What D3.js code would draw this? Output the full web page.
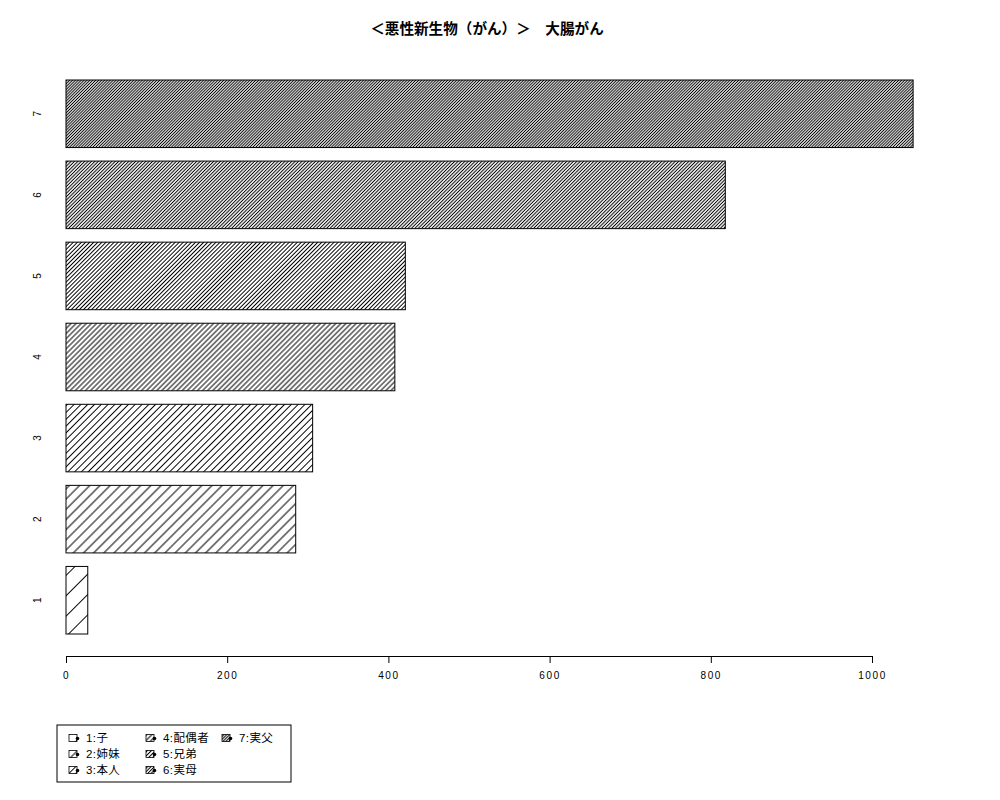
<!DOCTYPE html>
<html>
<head>
<meta charset="utf-8">
<script src="https://cdn.jsdelivr.net/npm/d3@7"></script>
<style>
  body { margin: 0; background: #fff; }
  svg { display: block; }
  text { font-family: "Liberation Sans", Arial, "Noto Sans CJK JP", sans-serif; }
</style>
</head>
<body>
<svg id="chart" width="1000" height="800"></svg>
<script>
// data
const categories = [1, 2, 3, 4, 5, 6, 7];
const values = [27, 285, 306, 408, 421, 818, 1051];
const densities = [5, 10, 15, 20, 25, 30, 35];   // hatch lines per inch
const legendLabels = ["1:子", "2:姉妹", "3:本人", "4:配偶者", "5:兄弟", "6:実母", "7:実父"];
const xTicks = [0, 200, 400, 600, 800, 1000];
const title = "＜悪性新生物（がん）＞　大腸がん";

const svg = d3.select("#chart");

const x = d3.scaleLinear().domain([0, 1000]).range([66, 872]);
const y = d3.scaleBand()
  .domain(categories.slice().reverse())
  .range([80, 634])
  .paddingInner(0.2 / 1.2)
  .paddingOuter(0);

// hatch patterns, one per density
const defs = svg.append("defs");
densities.forEach((d, i) => {
  const sp = 72 / d;
  const p = defs.append("pattern")
    .attr("id", "hatch" + i)
    .attr("patternUnits", "userSpaceOnUse")
    .attr("width", sp)
    .attr("height", 20)
    .attr("patternTransform", "rotate(45)");
  p.append("line")
    .attr("x1", sp / 2).attr("x2", sp / 2)
    .attr("y1", -1).attr("y2", 21)
    .attr("stroke", "#000")
    .attr("stroke-width", 1);
});

// title
svg.append("text")
  .attr("x", 487).attr("y", 29)
  .attr("text-anchor", "middle")
  .attr("dominant-baseline", "central")
  .attr("font-family", "'Noto Sans CJK JP', sans-serif")
  .attr("font-weight", "bold")
  .attr("font-size", 14.6)
  .text(title);

// bars
svg.append("g").selectAll("rect")
  .data(categories)
  .enter().append("rect")
    .attr("x", x(0))
    .attr("y", d => y(d))
    .attr("width", (d, i) => x(values[i]) - x(0))
    .attr("height", y.bandwidth())
    .attr("fill", (d, i) => "url(#hatch" + i + ")")
    .attr("stroke", "#000")
    .attr("stroke-width", 1);

// category labels (rotated, no axis line like R barplot)
svg.append("g").selectAll("text")
  .data(categories)
  .enter().append("text")
    .attr("transform", d => "translate(37," + (y(d) + y.bandwidth() / 2) + ") rotate(-90)")
    .attr("text-anchor", "middle")
    .attr("dominant-baseline", "central")
    .attr("font-size", 10)
    .text(d => d);

// value axis
const xAxis = d3.axisBottom(x)
  .tickValues(xTicks)
  .tickFormat(d3.format("d"))
  .tickSize(7)
  .tickSizeOuter(0)
  .tickPadding(9);

const ax = svg.append("g")
  .attr("transform", "translate(0,656)")
  .call(xAxis);
ax.select(".domain").attr("stroke", "#000");
ax.selectAll(".tick line").attr("stroke", "#000");
ax.selectAll(".tick text")
  .attr("font-family", "'Liberation Sans', Arial, sans-serif")
  .attr("font-size", 10)
  .attr("letter-spacing", 1.6)
  .attr("fill", "#000");

// legend
const legCols = [69, 146, 222];
const legRows = [738, 754, 770];
svg.append("rect")
  .attr("x", 57).attr("y", 725)
  .attr("width", 234).attr("height", 57)
  .attr("fill", "none")
  .attr("stroke", "#000");

const items = svg.append("g").selectAll("g")
  .data(legendLabels)
  .enter().append("g")
    .attr("transform", (d, i) => "translate(" + legCols[Math.floor(i / 3)] + "," + legRows[i % 3] + ")");

items.append("rect")
  .attr("x", 0).attr("y", -3.5)
  .attr("width", 8).attr("height", 7)
  .attr("fill", (d, i) => "url(#hatch" + i + ")")
  .attr("stroke", "#000")
  .attr("stroke-width", 0.8);
items.append("circle")
  .attr("cx", 8.5).attr("cy", 0.5)
  .attr("r", 1.8)
  .attr("fill", "#000");
items.append("text")
  .attr("x", 17).attr("y", 0)
  .attr("dominant-baseline", "central")
  .attr("font-family", "'Noto Sans CJK JP', sans-serif")
  .attr("font-size", 11.5)
  .attr("letter-spacing", 0.4)
  .text(d => d);
</script>
</body>
</html>
